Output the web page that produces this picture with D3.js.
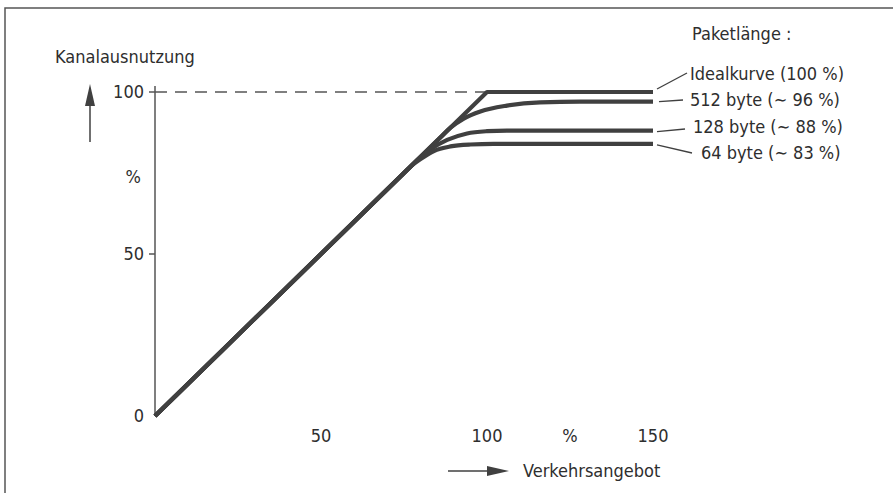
<!DOCTYPE html>
<html>
<head>
<meta charset="utf-8">
<script src="https://cdn.jsdelivr.net/npm/d3@7"></script>
<style>
  body { margin: 0; background: #fff; }
  svg text {
    font-family: "Liberation Sans Narrow", "DejaVu Sans Condensed", "Roboto", sans-serif;
    font-size: 18px;
    fill: #2e2e2e;
  }
</style>
</head>
<body>
<div id="chart"></div>
<script>
// Tick values (percent)
const xTicks = [50, 100, 150];
const yTicks = [0, 50, 100];

// Curves: [Verkehrsangebot %, Kanalausnutzung %]
const idealCurve = [[0, 0], [100, 100], [150, 100]];
const curve512 = [[0, 0], [40, 40], [86, 86], [89, 89], [93, 91.8], [98, 94], [106, 95.8], [116, 96.8], [128, 97], [150, 97]];
const curve128 = [[0, 0], [40, 40], [76, 76], [79, 79], [83, 82.3], [88, 85.2], [94, 87.2], [100, 87.9], [106, 88.1], [150, 88.1]];
const curve64 = [[0, 0], [40, 40], [74, 74], [77, 77], [80, 79.3], [84, 81.8], [89, 83.2], [95, 83.8], [102, 84], [150, 84]];

const seriesLabels = ['Idealkurve (100 %)', '512 byte (∼ 96 %)', '128 byte (∼ 88 %)', '64 byte (∼ 83 %)'];

// Layout constants
const CONFIG = {
  width: 893,
  height: 493,
  x0: 155, x1: 653,
  y0: 416, y1: 92,
  lineColor: '#404040',
  axisColor: '#555',
};

const svg = d3.select('#chart')
  .append('svg')
  .attr('width', CONFIG.width)
  .attr('height', CONFIG.height);

const xScale = d3.scaleLinear().domain([0, 150]).range([CONFIG.x0, CONFIG.x1]);
const yScale = d3.scaleLinear().domain([0, 100]).range([CONFIG.y0, CONFIG.y1]);

// Frame (top + left edge only)
svg.append('path')
  .attr('d', `M5,${CONFIG.height} V8 H${CONFIG.width}`)
  .attr('fill', 'none')
  .attr('stroke', CONFIG.axisColor)
  .attr('stroke-width', 1.5);

// Y axis line
svg.append('line')
  .attr('x1', xScale(0)).attr('x2', xScale(0))
  .attr('y1', yScale(0)).attr('y2', yScale(100) - 6)
  .attr('stroke', CONFIG.axisColor)
  .attr('stroke-width', 1.5);

// Y ticks + labels
svg.selectAll('.ytick')
  .data(yTicks.filter(d => d > 0))
  .join('line')
  .attr('class', 'ytick')
  .attr('x1', xScale(0) - 6).attr('x2', xScale(0))
  .attr('y1', d => yScale(d)).attr('y2', d => yScale(d))
  .attr('stroke', CONFIG.axisColor)
  .attr('stroke-width', 1.5);

svg.selectAll('.ylabel')
  .data(yTicks)
  .join('text')
  .attr('class', 'ylabel')
  .attr('x', xScale(0) - 11)
  .attr('y', d => yScale(d) + 6)
  .attr('text-anchor', 'end')
  .text(d => d);

svg.append('text')
  .attr('x', 141).attr('y', 183)
  .attr('text-anchor', 'end')
  .text('%');

// X tick labels
svg.selectAll('.xlabel')
  .data(xTicks)
  .join('text')
  .attr('class', 'xlabel')
  .attr('x', d => xScale(d))
  .attr('y', 442)
  .attr('text-anchor', 'middle')
  .text(d => d);

svg.append('text')
  .attr('x', xScale(125))
  .attr('y', 442)
  .attr('text-anchor', 'middle')
  .text('%');

// Dashed reference line at 100 %
svg.append('line')
  .attr('x1', xScale(0)).attr('x2', xScale(100))
  .attr('y1', yScale(100)).attr('y2', yScale(100))
  .attr('stroke', CONFIG.axisColor)
  .attr('stroke-width', 1.3)
  .attr('stroke-dasharray', '12,8');

// Axis titles with arrows
svg.append('text')
  .attr('x', 55).attr('y', 63)
  .text('Kanalausnutzung');

svg.append('line')
  .attr('x1', 90).attr('x2', 90)
  .attr('y1', 142).attr('y2', 100)
  .attr('stroke', CONFIG.lineColor)
  .attr('stroke-width', 1.5);
svg.append('path')
  .attr('d', 'M90,84 L95,106 L85,106 Z')
  .attr('fill', CONFIG.lineColor);

svg.append('line')
  .attr('x1', 448).attr('x2', 490)
  .attr('y1', 471).attr('y2', 471)
  .attr('stroke', CONFIG.lineColor)
  .attr('stroke-width', 1.5);
svg.append('path')
  .attr('d', 'M509,471 L487,466 L487,476 Z')
  .attr('fill', CONFIG.lineColor);

svg.append('text')
  .attr('x', 523).attr('y', 477)
  .text('Verkehrsangebot');

// Curves
const smooth = d3.line()
  .x(d => xScale(d[0]))
  .y(d => yScale(d[1]))
  .curve(d3.curveMonotoneX);

const straight = d3.line()
  .x(d => xScale(d[0]))
  .y(d => yScale(d[1]));

const series = [idealCurve, curve512, curve128, curve64];

svg.selectAll('.curve')
  .data(series)
  .join('path')
  .attr('class', 'curve')
  .attr('d', (d, i) => i === 0 ? straight(d) : smooth(d))
  .attr('fill', 'none')
  .attr('stroke', CONFIG.lineColor)
  .attr('stroke-width', 4.2)
  .attr('stroke-linejoin', 'round');

// Legend: title, labels and leader lines
svg.append('text')
  .attr('x', 692).attr('y', 40)
  .text('Paketlänge :');

const labelPos = [
  { x: 690, y: 80, lx: 687, ly: 73, dx: 4, dy: -3 },
  { x: 690, y: 106, lx: 683, ly: 100, dx: 6, dy: 0 },
  { x: 693, y: 133, lx: 685, ly: 129, dx: 4, dy: 1 },
  { x: 701, y: 159, lx: 692, ly: 153, dx: 4, dy: 1 },
];

svg.selectAll('.leader')
  .data(series)
  .join('line')
  .attr('class', 'leader')
  .attr('x1', (d, i) => xScale(d[d.length - 1][0]) + labelPos[i].dx)
  .attr('y1', (d, i) => yScale(d[d.length - 1][1]) + labelPos[i].dy)
  .attr('x2', (d, i) => labelPos[i].lx)
  .attr('y2', (d, i) => labelPos[i].ly)
  .attr('stroke', CONFIG.lineColor)
  .attr('stroke-width', 1.3);

svg.selectAll('.serieslabel')
  .data(seriesLabels)
  .join('text')
  .attr('class', 'serieslabel')
  .attr('x', (d, i) => labelPos[i].x)
  .attr('y', (d, i) => labelPos[i].y)
  .text(d => d);
</script>
</body>
</html>
